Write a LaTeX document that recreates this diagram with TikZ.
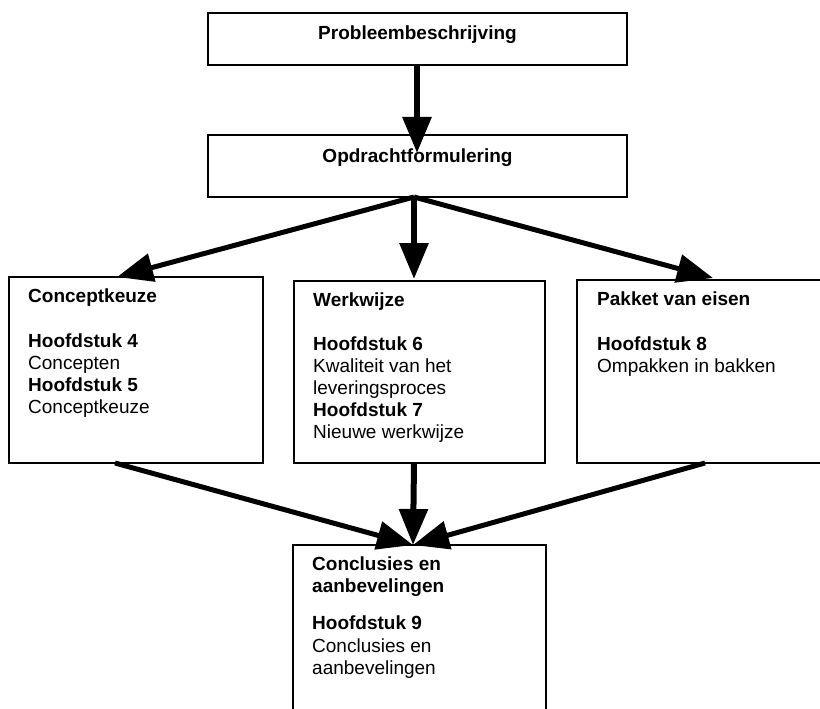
\documentclass[tikz,border=0pt]{standalone}
\usepackage{fontspec}
\setmainfont{Liberation Sans}
\usetikzlibrary{arrows.meta,calc}
\begin{document}
\begin{tikzpicture}[x=1pt,y=-1pt,
  box/.style={draw, line width=1.4pt, inner sep=0pt, outer sep=0pt},
  ttl/.style={font=\fontsize{19}{22}\selectfont\bfseries, inner sep=0pt, anchor=base},
  hd/.style={font=\fontsize{19}{22}\selectfont\bfseries, inner sep=0pt, anchor=base west},
  bd/.style={font=\fontsize{19}{22}\selectfont, inner sep=0pt, anchor=base west},
  flow/.style={line width=6pt, -{Triangle[length=36pt,width=28pt]}},
  slant/.style={line width=5pt, -{Triangle[length=36pt,width=28pt]}}]
\useasboundingbox (0,0) rectangle (820,709);
\clip (0,0) rectangle (820,709);
\fill[white] (0,0) rectangle (820,709);

% boxes
\node[box, minimum width=419pt, minimum height=52pt] (b1) at (417.5,39) {};
\node[box, minimum width=419pt, minimum height=62pt] (b2) at (417.5,166) {};
\node[box, minimum width=254pt, minimum height=186pt] (b3) at (136,370) {};
\node[box, minimum width=251pt, minimum height=182pt] (b4) at (419.5,372) {};
\node[box, minimum width=260pt, minimum height=183pt] (b5) at (707,371.5) {};
\node[box, minimum width=253pt, minimum height=180pt] (b6) at (419.5,635) {};

% texts
\node[ttl] (t1) at (417.5,40) {Probleembeschrijving};
\node[ttl] (t2) at (417.5,162) {Opdrachtformulering};

\node[hd] (c1) at (28,302) {Conceptkeuze};
\node[hd] (c2) at (28,347) {Hoofdstuk 4};
\node[bd] (c3) at (28,369) {Concepten};
\node[hd] (c4) at (28,391) {Hoofdstuk 5};
\node[bd] (c5) at (28,413) {Conceptkeuze};

\node[hd] (w1) at (313,306) {Werkwijze};
\node[hd] (w2) at (313,350) {Hoofdstuk 6};
\node[bd] (w3) at (313,372) {Kwaliteit van het};
\node[bd] (w4) at (313,394) {leveringsproces};
\node[hd] (w5) at (313,416) {Hoofdstuk 7};
\node[bd] (w6) at (313,438) {Nieuwe werkwijze};

\node[hd] (p1) at (597,305) {Pakket van eisen};
\node[hd] (p2) at (597,350) {Hoofdstuk 8};
\node[bd] (p3) at (597,372) {Ompakken in bakken};

\node[hd] (k1) at (312,570) {Conclusies en};
\node[hd] (k2) at (312,592) {aanbevelingen};
\node[hd] (k3) at (312,629) {Hoofdstuk 9};
\node[bd] (k4) at (312,652) {Conclusies en};
\node[bd] (k5) at (312,674) {aanbevelingen};

% connector end points
\coordinate (a1) at (417,153);
\coordinate (s2) at (414,197);
\coordinate (a3) at (117,277);
\coordinate (a4) at (414,279);
\coordinate (a5) at (713,278);
\coordinate (s3) at (115,463);
\coordinate (s4) at (414,463);
\coordinate (s5) at (705,463);
\coordinate (a6) at (413,545);

% connectors
\draw[flow] (b1.south -| a1) -- (a1);
\draw[slant] (s2) -- (a3);
\draw[flow] (s2) -- (a4);
\draw[slant] (s2) -- (a5);
\draw[slant] (s3) -- (a6);
\draw[flow] (s4) -- (a6);
\draw[slant] (s5) -- (a6);
\end{tikzpicture}
\end{document}
